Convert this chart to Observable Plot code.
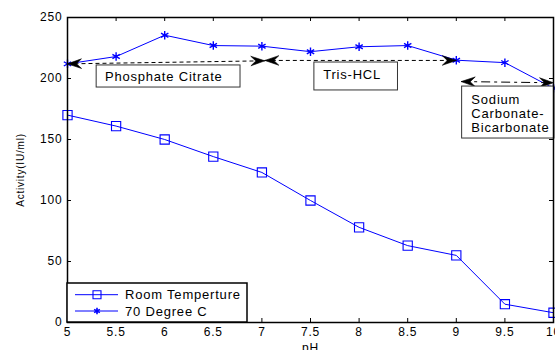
<!DOCTYPE html>
<html>
<head>
<meta charset="utf-8">
<script src="https://cdn.jsdelivr.net/npm/d3@7"></script>
<script src="https://cdn.jsdelivr.net/npm/@observablehq/plot@0.6"></script>
<style>
  html, body { margin: 0; padding: 0; background: #fff; }
  #chart { width: 555px; height: 350px; overflow: hidden; }
  svg text { letter-spacing: 0.8px; }
</style>
</head>
<body>
<div id="chart"></div>
<script>
// ---- data ----
const pH = [5, 5.5, 6, 6.5, 7, 7.5, 8, 8.5, 9, 9.5, 10];
const roomTemp = [170, 161, 150, 136, 123, 100, 78, 63, 55, 15, 8];
const deg70 = [212, 218, 235.5, 227, 226.5, 222, 226, 227, 215, 213, 192];
const xTicks = [5, 5.5, 6, 6.5, 7, 7.5, 8, 8.5, 9, 9.5, 10];
const yTicks = [0, 50, 100, 150, 200, 250];
const seriesNames = ["Room Temperture", "70 Degree C"];

// buffer range annotations (pH ranges)
const arrowRanges = [
  {name: "Phosphate Citrate", x1: 5, y1: 212, x2: 7.03, y2: 214.5},
  {name: "Tris-HCL", x1: 7.03, y1: 214.8, x2: 9, y2: 214.8},
  {name: "Sodium Carbonate-Bicarbonate", x1: 9.05, y1: 197.5, x2: 10, y2: 196.5}
];
const noteBoxes = [
  {x1: 5.30, x2: 6.78, y1: 192.6, y2: 210.7},
  {x1: 7.54, x2: 8.40, y1: 190.2, y2: 213.1},
  {x1: 9.06, x2: 10.01, y1: 150.8, y2: 193.4}
];
const noteTexts = [
  {x: 5.385, y: 201.8, text: "Phosphate Citrate"},
  {x: 7.63, y: 203.5, text: "Tris-HCL"},
  {x: 9.155, y: 171.3, text: "Sodium\nCarbonate-\nBicarbonate"}
];

const room = pH.map((x, i) => ({x, y: roomTemp[i]}));
const hot = pH.map((x, i) => ({x, y: deg70[i]}));
const blue = "#0000ff";

const head = (color, context) => {
  const m = d3.create("svg:marker")
    .attr("viewBox", "-14 -6 15 12")
    .attr("markerWidth", 15)
    .attr("markerHeight", 12)
    .attr("markerUnits", "userSpaceOnUse")
    .attr("orient", "auto-start-reverse")
    .attr("refX", 0).attr("refY", 0)
    .attr("overflow", "visible");
  m.append("path")
    .attr("d", "M0,0 L-14,-4.8 L-9,0 L-14,4.8 Z")
    .attr("fill", "black")
    .attr("stroke", "black")
    .attr("stroke-width", 0.6)
    .attr("stroke-dasharray", "none");
  return m.node();
};

const W = 555, H = 350, mL = 67, mR = 2, mT = 17, mB = 28;
const iW = W - mL - mR, iH = H - mT - mB;
const isSodium = d => d.name.startsWith("Sodium");

const plot = Plot.plot({
  width: W, height: H,
  marginLeft: mL, marginRight: mR, marginTop: mT, marginBottom: mB,
  style: {fontFamily: "'Liberation Sans', Arial, sans-serif", fontSize: "12px", background: "white", overflow: "visible"},
  x: {domain: [5, 10], ticks: xTicks, label: null},
  y: {domain: [0, 250], ticks: yTicks, label: null},
  marks: [
    Plot.axisX({ticks: xTicks, tickSize: 0, tickPadding: 5, fontSize: 12, label: null, tickFormat: d => String(d)}),
    Plot.axisY({ticks: yTicks, tickSize: 0, tickPadding: 5, fontSize: 12, label: null}),
    // inward ticks on all four sides
    Plot.tickX(xTicks, {x: d => d, insetTop: iH - 4, stroke: "black"}),
    Plot.tickX(xTicks, {x: d => d, insetBottom: iH - 4, stroke: "black"}),
    Plot.tickY(yTicks, {y: d => d, insetRight: iW - 4, stroke: "black"}),
    Plot.tickY(yTicks, {y: d => d, insetLeft: iW - 4, stroke: "black"}),
    // data
    Plot.line(room, {x: "x", y: "y", stroke: blue, strokeWidth: 1}),
    Plot.dot(room, {x: "x", y: "y", symbol: "square", r: 5.2, stroke: blue, fill: "none", strokeWidth: 1.1}),
    Plot.line(hot, {x: "x", y: "y", stroke: blue, strokeWidth: 1}),
    Plot.dot(hot, {x: "x", y: "y", symbol: "asterisk", r: 4, stroke: blue, strokeWidth: 1.4}),
    // annotations
    Plot.link(arrowRanges, {filter: d => !isSodium(d), x1: "x1", y1: "y1", x2: "x2", y2: "y2", stroke: "black", strokeWidth: 1,
      strokeDasharray: "4,3", markerStart: head, markerEnd: head}),
    Plot.link(arrowRanges, {filter: isSodium, x1: "x1", y1: "y1", x2: "x2", y2: "y2", stroke: "black", strokeWidth: 1,
      strokeDasharray: "9,4,3,4", markerStart: head, markerEnd: head}),
    Plot.rect(noteBoxes, {x1: "x1", x2: "x2", y1: "y1", y2: "y2", fill: "white", stroke: "#333", strokeWidth: 1}),
    Plot.text(noteTexts, {x: "x", y: "y", text: "text", textAnchor: "start", fontSize: 13, lineHeight: 1.08, fill: "black"}),
    Plot.frame({stroke: "black", strokeWidth: 1.5}),
    // axis titles
    Plot.text(["Activity(IU/ml)"], {frameAnchor: "left", textAnchor: "middle", lineAnchor: "middle", rotate: -90, dx: -47, fontSize: 10, fill: "black"}),
    Plot.text(["pH"], {frameAnchor: "bottom", textAnchor: "middle", lineAnchor: "middle", dy: 26, fontSize: 12, fill: "black"})
  ]
});

document.getElementById("chart").appendChild(plot);

// legend (bottom-left, inside the axes)
const svg = d3.select(plot);
const lg = svg.append("g").attr("class", "legend").attr("text-anchor", "start");
const lx = mL, ly = 283, lw = 180, lh = H - mB - ly;
lg.append("rect").attr("x", lx).attr("y", ly).attr("width", lw).attr("height", lh)
  .attr("fill", "white").attr("stroke", "black").attr("stroke-width", 1.5);
const rows = [294.7, 311];
seriesNames.forEach((name, i) => {
  const yy = rows[i];
  lg.append("line").attr("x1", 75).attr("x2", 118).attr("y1", yy).attr("y2", yy)
    .attr("stroke", blue).attr("stroke-width", 1);
  const sym = i === 0 ? d3.symbolSquare : d3.symbolAsterisk;
  const size = i === 0 ? 64 : 30;
  lg.append("path").attr("d", d3.symbol(sym, size)())
    .attr("transform", `translate(97,${yy})`)
    .attr("fill", "none").attr("stroke", blue).attr("stroke-width", i === 0 ? 1.1 : 1.6);
  lg.append("text").attr("x", 125).attr("y", yy).attr("dy", "0.35em")
    .attr("text-anchor", "start")
    .attr("font-size", 13).attr("fill", "black").text(name);
});
</script>
</body>
</html>
